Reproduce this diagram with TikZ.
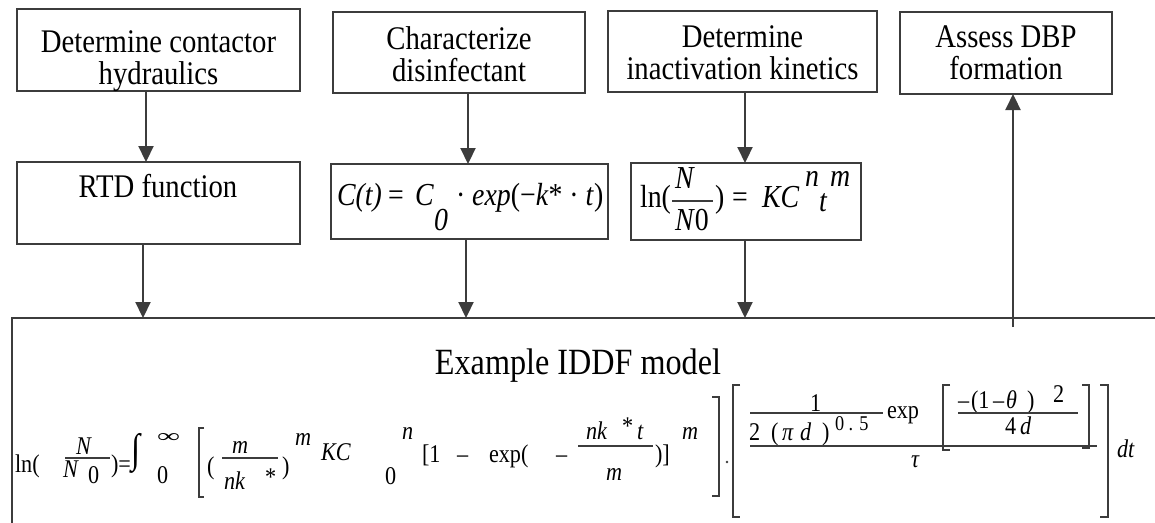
\documentclass[tikz,border=0pt]{standalone}
\usepackage{fontspec}
\usepackage{graphicx}
\setmainfont{Liberation Serif}[FakeStretch=0.87]
\usetikzlibrary{arrows.meta}
\definecolor{ink}{HTML}{3C3C3C}
\newcommand\bxfont{\fontsize{33}{30}\selectfont}
\newcommand\fxfont{\fontsize{32}{32}\selectfont}
\newcommand\eqfont{\fontsize{25.5}{25.5}\selectfont}
\newcommand\expfont{\fontsize{21}{21}\selectfont}
\newcommand\ttlfont{\fontsize{37}{37}\selectfont}
% two centred lines whose ink is lowered by #1 inside the box
\newcommand\twolines[3]{\raisebox{0pt}[\dimexpr\height+#1\relax][\dimexpr\depth-#1\relax]{%
  \begin{tabular}{@{}c@{}}#2\\#3\end{tabular}}}
\begin{document}
\begin{tikzpicture}[x=1pt, y=-1pt,
  box/.style={draw=ink, line width=1.3pt, inner sep=0pt, outer sep=0pt, align=center, font=\bxfont},
  arr/.style={draw=ink, line width=2.2pt, -{Triangle[length=16pt,width=15pt]}},
  fx/.style={anchor=base west, inner sep=0pt, outer sep=0pt, font=\fxfont},
  fxi/.style={fx, font=\fxfont\itshape},
  eq/.style={anchor=base west, inner sep=0pt, outer sep=0pt, font=\eqfont},
  eqi/.style={eq, font=\eqfont\itshape},
  rule/.style={draw=ink, line width=1.1pt}]
\clip (0,0) rectangle (1155,522);

% first row: the four tasks
\node[box, minimum width=283, minimum height=82] (hyd) at (158.5,50) {\twolines{12pt}{Determine contactor}{hydraulics}};
\node[box, minimum width=252, minimum height=81] (dis) at (459,52.5) {\twolines{6pt}{Characterize}{disinfectant}};
\node[box, minimum width=269, minimum height=81] (kin) at (742.5,51.5) {\twolines{6pt}{Determine}{inactivation kinetics}};
\node[box, minimum width=212, minimum height=82] (dbp) at (1006,53) {\twolines{4pt}{Assess DBP}{formation}};

% second row: the component models
\node[box, minimum width=283, minimum height=82] (rtd) at (158.5,203) {};
\node[anchor=base, inner sep=0pt, font=\bxfont] (rtdtext) at (158,197) {RTD function};

\node[box, minimum width=277, minimum height=75] (ct) at (469.5,201.5) {};
\node[fxi] (c1) at (337,205) {C(t)};
\node[fx] (c2) at (388,205) {=};
\node[fxi] (c3) at (415,205) {C};
\node[fxi] (c4) at (434,230) {0};
\node[fx] (c5) at (456,205) {· \textit{exp}(−\textit{k}* · \textit{t})};

\node[box, minimum width=230, minimum height=77] (lnb) at (746,201.5) {};
\node[fx] (l1) at (640,207) {ln(};
\node[fxi] (l2) at (675,188) {N};
\draw[rule] (672,201) -- (713,201);
\node[fx] (l3) at (675,230) {\textit{N}0};
\node[fx] (l4) at (715,207) {)};
\node[fx] (l5) at (732,207) {=};
\node[fxi] (l6) at (762,207) {KC};
\node[fxi] (l7) at (805,186) {n};
\node[fxi] (l8) at (819,211) {t};
\node[fxi] (l9) at (830,186) {m};

% the combined model
\node[draw=ink, line width=1.3pt, inner sep=0pt, outer sep=0pt, anchor=north west,
      minimum width=1170, minimum height=230] (model) at (12,318) {};
\node[anchor=base, inner sep=0pt, font=\ttlfont] (title) at (578,374) {Example IDDF model};

% connectors
\draw[arr] ([xshift=-12.5pt]hyd.south) -- ([xshift=-12.5pt]rtd.north);
\draw[arr] ([xshift=-1.5pt]ct.north |- dis.south) -- ([xshift=-1.5pt]ct.north);
\draw[arr] ([xshift=-1pt]lnb.north |- kin.south) -- ([xshift=-1pt]lnb.north);
\draw[arr] ([xshift=-15.5pt]rtd.south) -- ([xshift=-15.5pt]rtd.south |- model.north);
\draw[arr] ([xshift=-3.5pt]ct.south) -- ([xshift=-3.5pt]ct.south |- model.north);
\draw[arr] ([xshift=-1pt]lnb.south) -- ([xshift=-1pt]lnb.south |- model.north);
\coordinate (up) at (1013,327);
\draw[arr] (up) -- (dbp.south -| up);

% equation: ln(N/N0) = integral ...
\node[eq] (q1) at (15,472) {ln(};
\node[eqi] (q2) at (76,454) {N};
\draw[rule] (65,458) -- (110,458);
\node[eqi] (q3) at (63,477) {N};
\node[eq] (q4) at (88,483) {0};
\node[eq] (q5) at (111,472) {)=};
\node[anchor=north west, inner sep=0pt] (q6) at (131,433) {\resizebox*{9pt}{40pt}{∫}};
\node[anchor=north west, inner sep=0pt] (q7) at (157,433) {\resizebox*{23pt}{9pt}{∞}};
\node[eq] (q8) at (157,483) {0};
\draw[rule] (204,428) -- (199,428) -- (199,497) -- (204,497);
\node[eq] (q9) at (207,474) {(};
\node[eqi] (q10) at (232,453) {m};
\draw[rule] (222,458) -- (278,458);
\node[eqi] (q11) at (224,489) {nk};
\node[eq] (q12) at (265,485) {*};
\node[eq] (q13) at (282,474) {)};
\node[eqi] (q14) at (295,445) {m};
\node[eqi] (q15) at (321,460) {KC};
\node[eq] (q16) at (385,484) {0};
\node[eqi] (q17) at (402,439) {n};
\node[eq] (q18) at (422,462) {[1};
\node[eq] (q19) at (457,462) {–};
\node[eq] (q20) at (489,462) {exp(};
\node[eq] (q21) at (556,462) {–};
\node[eqi] (q22) at (586,439) {nk};
\node[eq] (q23) at (622,434) {*};
\node[eqi] (q24) at (637,439) {t};
\draw[rule] (578,446) -- (653,446);
\node[eqi] (q25) at (606,480) {m};
\node[eq] (q26) at (655,462) {)]};
\node[eqi] (q27) at (682,439) {m};
\draw[rule] (712,397) -- (719,397) -- (719,496) -- (712,496);
\fill[ink] (727,462) circle (1.4);
\draw[rule] (740,385) -- (733,385) -- (733,517) -- (740,517);
% residence time distribution term
\node[eq] (q28) at (810,411) {1};
\draw[rule] (750,413) -- (883,413);
\node[eq] (q29) at (749,440) {2};
\node[eq] (q30) at (771,440) {(};
\node[eqi] (q31) at (782,440) {π};
\node[eqi] (q32) at (800,440) {d};
\node[eq] (q33) at (822,440) {)};
\node[eq, font=\expfont] (q34) at (835,430) {0 . 5};
\node[eq] (q35) at (887,418) {exp};
\draw[rule] (750,446) -- (1097,446);
\node[eqi] (q36) at (911,467) {τ};
\draw[rule] (950,385) -- (943,385) -- (943,450) -- (950,450);
\node[eq] (q37) at (958,408) {–};
\node[eq] (q38) at (971,408) {(1};
\node[eq] (q39) at (993,408) {–};
\node[eqi] (q40) at (1006,408) {θ};
\node[eq] (q41) at (1027,408) {)};
\node[eq] (q42) at (1053,402) {2};
\draw[rule] (958,413) -- (1078,413);
\node[eq] (q43) at (1005,434) {4};
\node[eqi] (q44) at (1020,434) {d};
\draw[rule] (1082,385) -- (1089,385) -- (1089,448) -- (1082,448);
\draw[rule] (1100,385) -- (1108,385) -- (1108,517) -- (1100,517);
\node[eqi] (q45) at (1117,457) {dt};
\end{tikzpicture}
\end{document}
